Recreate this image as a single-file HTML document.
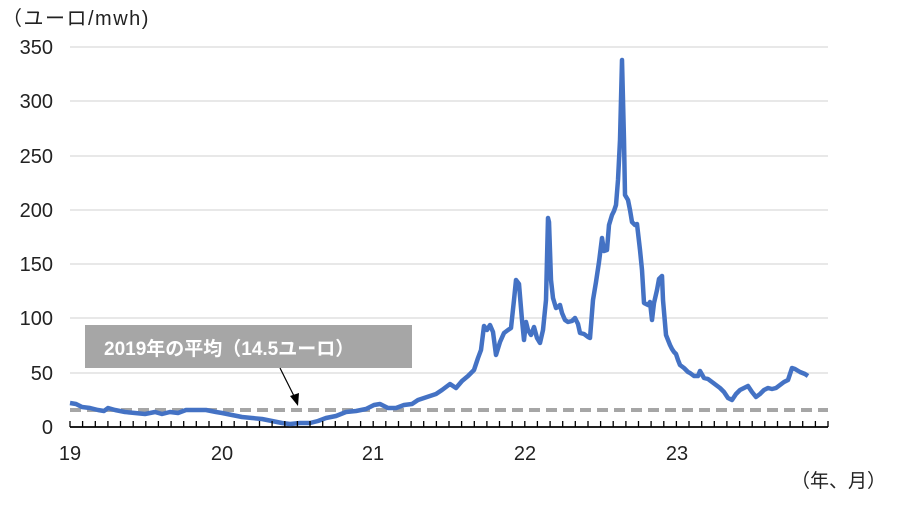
<!DOCTYPE html>
<html><head><meta charset="utf-8"><style>
body{margin:0;background:#fff;}
svg{display:block;font-family:"Liberation Sans","Noto Sans CJK JP",sans-serif;}
</style></head><body>
<svg width="900" height="506" viewBox="0 0 900 506">
<text x="2" y="25" font-size="20" fill="#222" letter-spacing="1.5">（ユーロ/mwh)</text>
<g stroke="#d9d9d9" stroke-width="1.2">
<line x1="70" x2="828" y1="47" y2="47"/><line x1="70" x2="828" y1="101" y2="101"/>
<line x1="70" x2="828" y1="156" y2="156"/><line x1="70" x2="828" y1="210" y2="210"/>
<line x1="70" x2="828" y1="264" y2="264"/><line x1="70" x2="828" y1="318" y2="318"/>
<line x1="70" x2="828" y1="373" y2="373"/>
</g>
<g font-size="20" fill="#222" text-anchor="end">
<text x="53" y="54">350</text><text x="53" y="108">300</text><text x="53" y="163">250</text>
<text x="53" y="217">200</text><text x="53" y="271">150</text><text x="53" y="325">100</text>
<text x="53" y="380">50</text><text x="53" y="434">0</text>
</g>
<g font-size="20" fill="#222" text-anchor="middle">
<text x="70" y="460">19</text><text x="222" y="460">20</text><text x="373" y="460">21</text>
<text x="525" y="460">22</text><text x="677" y="460">23</text>
</g>
<text x="886" y="487" font-size="19" fill="#222" text-anchor="end">（年、月）</text>
<line x1="70" x2="828" y1="427" y2="427" stroke="#000" stroke-width="1.8"/>
<line x1="70" x2="828" y1="410" y2="410" stroke="#a6a6a6" stroke-width="4" stroke-dasharray="11,6"/>
<polyline fill="none" stroke="#4472c4" stroke-width="4.5" stroke-linejoin="round" points="70,403 76,404 82,407 90,408 98,410 104,411 108,408 115,410 125,412 135,413 145,414 155,412 162,414 170,412 178,413 186,410 196,410 206,410 216,412 222,413 232,415 242,417 252,418 262,419 272,421 282,423 290,424 300,423 310,423 318,421 326,418 336,416 346,412 356,411 366,409 374,405 380,404 388,408 396,408 404,405 412,404 418,400 424,398 430,396 436,394 442,390 450,384 456,388 462,381 468,376 474,370 478,358 481,350 484,326 487,330 490,325 493,332 496,355 500,342 504,333 508,330 511,328 514,300 516,280 519,284 522,320 524,340 526,322 528,330 531,335 534,327 537,338 540,343 543,330 546,300 548,218 549,222 551,280 553,298 556,308 558,307 560,305 562,313 565,320 568,322 572,321 575,318 578,324 580,333 584,334 588,337 590,338 593,300 596,282 599,262 602,238 604,251 607,250 609,225 612,215 614,211 616,205 618,180 620,140 622,60 624,140 625,195 628,200 630,210 632,222 635,225 637,224 640,250 642,270 644,303 648,305 650,302 652,320 654,303 657,290 659,279 662,276 663,300 666,335 670,345 672,349 674,352 676,354 678,360 680,365 684,368 688,372 690,373 694,376 698,376 700,371 704,378 708,379 712,382 716,385 720,388 724,392 728,398 732,400 736,394 740,390 744,388 748,386 752,392 756,397 760,394 764,390 768,388 772,389 776,388 780,385 784,382 788,380 792,368 795,369 800,372 805,374 808,376"/>
<rect x="85" y="325" width="327" height="43" fill="#a6a6a6"/>
<text x="104" y="355" font-size="19" font-weight="bold" fill="#fff">2019年の平均（14.5ユーロ）</text>
<line x1="280" y1="368" x2="295" y2="398" stroke="#000" stroke-width="1.2"/>
<polygon points="298,406 290,396 299,393" fill="#000"/>
<g stroke="#000" stroke-width="1.3" fill="none">
<path d="M70 427V421M82.6 427V421M95.3 427V421M107.9 427V421M120.5 427V421M133.2 427V421M145.8 427V421M158.4 427V421M171.1 427V421M183.7 427V421M196.3 427V421M209 427V421M221.6 427V421M234.2 427V421M246.9 427V421M259.5 427V421M272.1 427V421M284.8 427V421M297.4 427V421M310 427V421M322.7 427V421M335.3 427V421M347.9 427V421M360.6 427V421M373.2 427V421M385.8 427V421M398.5 427V421M411.1 427V421M423.7 427V421M436.4 427V421M449 427V421M461.6 427V421M474.3 427V421M486.9 427V421M499.5 427V421M512.2 427V421M524.8 427V421M537.4 427V421M550.1 427V421M562.7 427V421M575.3 427V421M588 427V421M600.6 427V421M613.2 427V421M625.9 427V421M638.5 427V421M651.1 427V421M663.8 427V421M676.4 427V421M689 427V421M701.7 427V421M714.3 427V421M726.9 427V421M739.6 427V421M752.2 427V421M764.8 427V421M777.5 427V421M790.1 427V421M802.7 427V421M815.4 427V421M828 427V421"/>
</g>
</svg>
</body></html>
